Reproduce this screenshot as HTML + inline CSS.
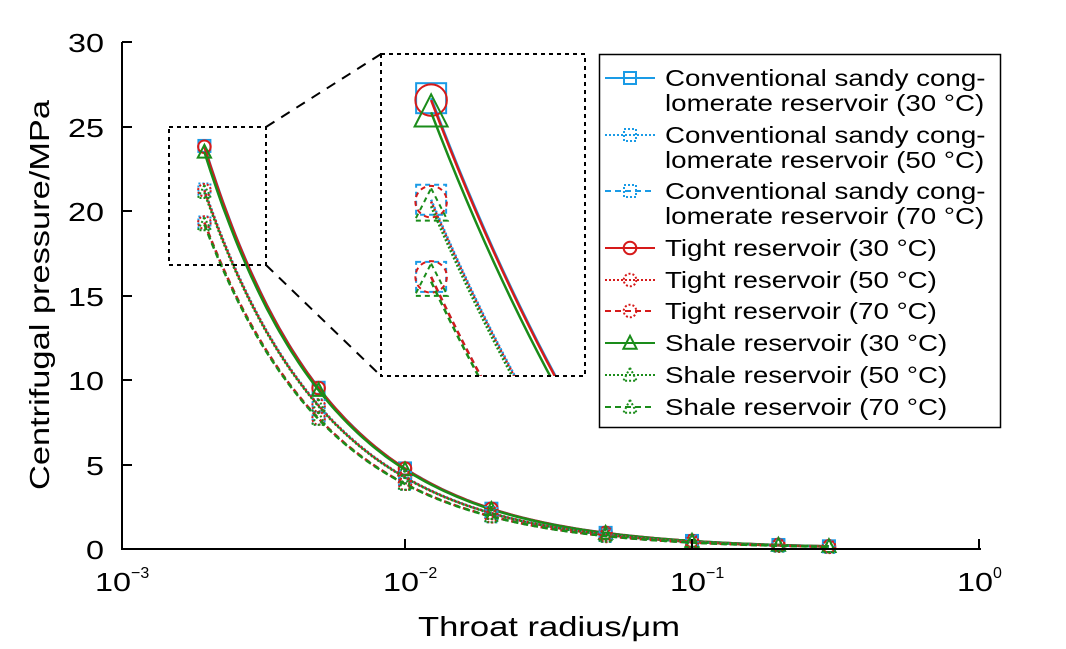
<!DOCTYPE html>
<html><head><meta charset="utf-8"><style>
html,body{margin:0;background:#fff;overflow:hidden;width:1066px;height:649px}
svg{display:block;font-family:"Liberation Sans",Arial,sans-serif}
</style></head><body>
<svg id="s" width="1066" height="649" xmlns="http://www.w3.org/2000/svg">
<defs><clipPath id="ic"><rect x="381" y="54" width="204" height="322"/></clipPath></defs>
<g id="plot"></g>
<g id="inset" clip-path="url(#ic)"></g>
<g stroke="#000" stroke-width="2" fill="none">
<path d="M122,42 V549 H981"/>
<path d="M122,42 h10 M122,127 h10 M122,211 h10 M122,296 h10 M122,380 h10 M122,465 h10"/>
<path d="M405,549 v-10 M692,549 v-10 M979,549 v-10"/>
</g>
<g font-size="26" text-anchor="end" fill="#000">
<text x="104" y="52" textLength="36" lengthAdjust="spacingAndGlyphs">30</text>
<text x="104" y="137" textLength="36" lengthAdjust="spacingAndGlyphs">25</text>
<text x="104" y="221" textLength="36" lengthAdjust="spacingAndGlyphs">20</text>
<text x="104" y="306" textLength="36" lengthAdjust="spacingAndGlyphs">15</text>
<text x="104" y="390" textLength="36" lengthAdjust="spacingAndGlyphs">10</text>
<text x="104" y="475" textLength="18" lengthAdjust="spacingAndGlyphs">5</text>
<text x="104" y="559" textLength="18" lengthAdjust="spacingAndGlyphs">0</text>
</g>
<g font-size="26" fill="#000">
<text x="95" y="591" textLength="36" lengthAdjust="spacingAndGlyphs">10</text><text x="131" y="578" font-size="16">−3</text>
<text x="383" y="591" textLength="36" lengthAdjust="spacingAndGlyphs">10</text><text x="419" y="578" font-size="16">−2</text>
<text x="670" y="591" textLength="36" lengthAdjust="spacingAndGlyphs">10</text><text x="706" y="578" font-size="16">−1</text>
<text x="957" y="591" textLength="36" lengthAdjust="spacingAndGlyphs">10</text><text x="993" y="578" font-size="16">0</text>
</g>
<text x="418" y="636" font-size="28" textLength="262" lengthAdjust="spacingAndGlyphs">Throat radius/μm</text>
<text transform="translate(49,490) rotate(-90)" font-size="28" textLength="390" lengthAdjust="spacingAndGlyphs">Centrifugal pressure/MPa</text>
<g stroke="#000" stroke-width="2" fill="none" stroke-dasharray="4,4">
<rect x="169" y="127" width="97" height="138"/>
<rect x="381" y="54" width="204" height="322"/>
</g>
<g stroke="#000" stroke-width="2" fill="none" stroke-dasharray="10,8">
<path d="M266,127 L381,54"/><path d="M266,265 L381,376"/>
</g>
<rect x="599.5" y="54.5" width="401" height="373" fill="#fff" stroke="#000" stroke-width="1.5"/>
<g id="leg"></g>
</svg>
<script>
const NS="http://www.w3.org/2000/svg";
function el(p,t,a){const e=document.createElementNS(NS,t);for(const k in a)e.setAttribute(k,a[k]);p.appendChild(e);return e;}
const X=r=>118+287*(Math.log10(r)+3), Y=p=>549-16.9*p;
const xs=[0.002,0.005,0.01,0.02,0.05,0.1,0.2,0.3];
const cols=["#1a9be6","#d61a1a","#1a8c1a"];
const dash=["none","2,2","6,4"];
const fac=[[1,0.892,0.81],[0.998,0.89,0.81],[0.985,0.885,0.805]];
const C=0.0477;
const plot=document.getElementById("plot"),inset=document.getElementById("inset");
const IX=x=>430+(x-204)*2.85, IY=y=>54+(y-127)*322/138;
function marker(g,k,x,y,s,c,d){
 const a={fill:"none",stroke:c,"stroke-width":2};if(d!="none")a["stroke-dasharray"]=d;
 if(k==0)el(g,"rect",Object.assign({x:x-s,y:y-s,width:2*s,height:2*s},a));
 if(k==1)el(g,"circle",Object.assign({cx:x,cy:y,r:s*1.05},a));
 if(k==2)el(g,"path",Object.assign({d:`M${x},${y-s*1.2}L${x+s*1.1},${y+s*0.95}L${x-s*1.1},${y+s*0.95}Z`},a));
}
for(let j=0;j<3;j++)for(let c=0;c<3;c++){
 const f=fac[c][j],col=cols[c],d=dash[j];
 let pts=[],ipts=[];
 for(let i=0;i<=200;i++){const lr=Math.log10(0.002)+i/200*(Math.log10(0.3)-Math.log10(0.002));const r=Math.pow(10,lr);const x=X(r),y=Y(C*f/r);pts.push(x.toFixed(1)+","+y.toFixed(1));ipts.push(IX(x).toFixed(1)+","+IY(y).toFixed(1));}
 const a={fill:"none",stroke:col,"stroke-width":2.5};if(d!="none")a["stroke-dasharray"]=d;
 el(plot,"polyline",Object.assign({points:pts.join(" ")},a));
 el(inset,"polyline",Object.assign({points:ipts.join(" ")},a));
 xs.forEach(r=>marker(plot,c,X(r),Y(C*f/r),6,col,d=="none"?"none":"2,2"));
 const r=0.002;marker(inset,c,IX(X(r)),IY(Y(C*f/r)),15,col,d=="none"?"none":"5,4");
}
const leg=document.getElementById("leg");
const labels=[["Conventional sandy cong-","lomerate reservoir (30 °C)"],["Conventional sandy cong-","lomerate reservoir (50 °C)"],["Conventional sandy cong-","lomerate reservoir (70 °C)"],
["Tight reservoir (30 °C)"],["Tight reservoir (50 °C)"],["Tight reservoir (70 °C)"],["Shale reservoir (30 °C)"],["Shale reservoir (50 °C)"],["Shale reservoir (70 °C)"]];
const ys=[78,135,191,248,280,311,343,375,407];
labels.forEach((l,i)=>{const c=Math.floor(i/3),j=i%3,y=ys[i];const a={stroke:cols[c],"stroke-width":2};if(dash[j]!="none")a["stroke-dasharray"]=dash[j];
 el(leg,"path",Object.assign({d:`M605,${y}H655`},a));marker(leg,c,630,y,6,cols[c],dash[j]=="none"?"none":"2,2");
 l.forEach((t,k)=>{const e=el(leg,"text",{x:665,y:y+8+k*25,"font-size":21});e.textContent=t;
  const w=e.getComputedTextLength();e.setAttribute("font-size","23");e.setAttribute("textLength",(w*1.32).toFixed(1));e.setAttribute("lengthAdjust","spacingAndGlyphs");});});
</script>
</body></html>
